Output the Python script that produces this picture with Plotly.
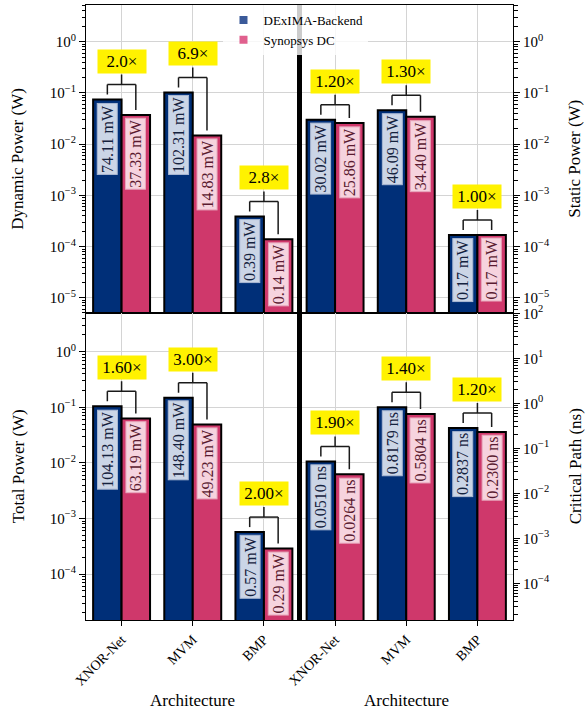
import math
import plotly.graph_objects as go

# ---------------- data ----------------
architectures = ["XNOR-Net", "MVM", "BMP"]
series_names = ["DExIMA-Backend", "Synopsys DC"]

dynamic_dexima_mw = [74.11, 102.31, 0.39]
dynamic_synopsys_mw = [37.33, 14.83, 0.14]
dynamic_ratio = ["2.0×", "6.9×", "2.8×"]

static_dexima_mw = [30.02, 46.09, 0.17]
static_synopsys_mw = [25.86, 34.40, 0.17]
static_ratio = ["1.20×", "1.30×", "1.00×"]

total_dexima_mw = [104.13, 148.40, 0.57]
total_synopsys_mw = [63.19, 49.23, 0.29]
total_ratio = ["1.60×", "3.00×", "2.00×"]

crit_dexima_ns = [0.0510, 0.8179, 0.2837]
crit_synopsys_ns = [0.0264, 0.5804, 0.2300]
crit_ratio = ["1.90×", "1.40×", "1.20×"]

power_exponents_top = [-5, -4, -3, -2, -1, 0]
power_exponents_bottom = [-4, -3, -2, -1, 0]
crit_exponents = [-4, -3, -2, -1, 0, 1, 2]

# ---------------- style ----------------
W, H = 588, 710
ML, MR, MT, MB = 86, 75, 5, 90
PANEL_H = (H - MT - MB) / 2.0
FONT = "Liberation Serif"
BLUE = "#002f78"
PINK = "#cf386b"
BLUE_LEG = "#3b5a99"
PINK_LEG = "#e0608e"
GRID = "#d4d4d4"

RNG_TOP = [-5.284, 0.716]
RNG_BL = [-4.825, 0.705]
RNG_BR = [-4.815, 2.018]


def sup(e):
    return "10<sup>" + ("−" if e < 0 else "") + str(abs(e)) + "</sup>"


fig = go.Figure()
shapes = []
annotations = []


def add_panel(xref, yref, xs, dex, syn, ratios, unit, fmt, rng, scale):
    ppd = PANEL_H / (rng[1] - rng[0])
    dex_v = [v * scale for v in dex]
    syn_v = [v * scale for v in syn]
    fig.add_trace(go.Bar(x=xs, y=dex_v, width=0.4, offset=-0.4,
                         marker=dict(color=BLUE, line=dict(color="black", width=2)),
                         xaxis=xref, yaxis=yref, showlegend=False, hoverinfo="skip"))
    fig.add_trace(go.Bar(x=xs, y=syn_v, width=0.4, offset=0.0,
                         marker=dict(color=PINK, line=dict(color="black", width=2)),
                         xaxis=xref, yaxis=yref, showlegend=False, hoverinfo="skip"))
    for c, a, b, ra, da, sb in zip(xs, dex_v, syn_v, ratios, dex, syn):
        la, lb = math.log10(a), math.log10(b)
        lm = max(la, lb)
        top = lm + 15 / ppd
        stem = lm + 25 / ppd
        line = dict(color="#1a1a1a", width=1.5)
        common = dict(type="line", xref=xref, yref=yref, line=line, layer="above")
        # shapes on log axes take data values
        shapes.append(dict(x0=c - 0.2, x1=c - 0.2, y0=10 ** (la + 5 / ppd), y1=10 ** top, **common))
        shapes.append(dict(x0=c + 0.2, x1=c + 0.2, y0=10 ** (lb + 5 / ppd), y1=10 ** top, **common))
        shapes.append(dict(x0=c - 0.2, x1=c + 0.2, y0=10 ** top, y1=10 ** top, **common))
        shapes.append(dict(x0=c, x1=c, y0=10 ** top, y1=10 ** stem, **common))
        annotations.append(dict(x=c, y=stem + 1 / ppd, xref=xref, yref=yref, text=ra,
                                showarrow=False, yanchor="bottom", xanchor="center",
                                bgcolor="#fff200", width=46, height=21,
                                font=dict(family=FONT, size=17, color="black")))
        annotations.append(dict(x=c - 0.2, y=la, xref=xref, yref=yref,
                                text=fmt.format(da) + " " + unit, textangle=-90,
                                showarrow=False, yanchor="top", xanchor="center", yshift=-3,
                                bgcolor="#cbd5e6", bordercolor="#a9b8d3", borderwidth=1,
                                borderpad=1,
                                font=dict(family=FONT, size=16, color="#14213d")))
        annotations.append(dict(x=c + 0.2, y=lb, xref=xref, yref=yref,
                                text=fmt.format(sb) + " " + unit, textangle=-90,
                                showarrow=False, yanchor="top", xanchor="center", yshift=-3,
                                bgcolor="#f6d3de", bordercolor="#e7a7bc", borderwidth=1,
                                borderpad=1,
                                font=dict(family=FONT, size=16, color="#5a1a30")))


left_x = [0, 1, 2]
right_x = [3, 4, 5]
add_panel("x", "y", left_x, dynamic_dexima_mw, dynamic_synopsys_mw, dynamic_ratio,
          "mW", "{:.2f}", RNG_TOP, 1e-3)
add_panel("x", "y2", right_x, static_dexima_mw, static_synopsys_mw, static_ratio,
          "mW", "{:.2f}", RNG_TOP, 1e-3)
add_panel("x2", "y3", left_x, total_dexima_mw, total_synopsys_mw, total_ratio,
          "mW", "{:.2f}", RNG_BL, 1e-3)
add_panel("x2", "y4", right_x, crit_dexima_ns, crit_synopsys_ns, crit_ratio,
          "ns", "{:.4f}", RNG_BR, 1.0)

# legend entries
for name, col in zip(series_names, [BLUE_LEG, PINK_LEG]):
    fig.add_trace(go.Scatter(x=[None], y=[None], mode="markers", name=name,
                             marker=dict(symbol="square", size=8, color=col),
                             xaxis="x", yaxis="y"))

# separator line
shapes.append(dict(type="line", xref="x", yref="paper", x0=2.5, x1=2.5, y0=0, y1=1,
                   line=dict(color="black", width=5), layer="above"))

tickfont = dict(family=FONT, size=15, color="black")
ycommon = dict(type="log", ticks="outside", ticklen=6, tickcolor="black",
               showline=True, linecolor="black", linewidth=1, tickfont=tickfont,
               minor=dict(ticks="outside", ticklen=3.5, tickcolor="black", dtick="D1",
                          showgrid=False),
               zeroline=False, automargin=False)
xcommon = dict(range=[-0.5, 5.5], tickvals=[0, 1, 2, 3, 4, 5], showgrid=True,
               gridcolor=GRID, gridwidth=1, showline=True, mirror=True,
               linecolor="black", linewidth=1, zeroline=False, automargin=False)

fig.update_layout(
    width=W, height=H, margin=dict(l=ML, r=MR, t=MT, b=MB, autoexpand=False),
    paper_bgcolor="white", plot_bgcolor="white", barmode="overlay",
    font=dict(family=FONT, color="black"),
    xaxis=dict(anchor="y", domain=[0, 1], showticklabels=False, ticks="", **xcommon),
    xaxis2=dict(anchor="y3", domain=[0, 1], ticktext=architectures * 2, ticks="outside",
                ticklen=5, tickcolor="black", tickangle=-45,
                tickfont=dict(family=FONT, size=14, color="black"), **xcommon),
    yaxis=dict(domain=[0.5, 1], anchor="x", range=RNG_TOP,
               tickvals=[10.0 ** e for e in power_exponents_top],
               ticktext=[sup(e) for e in power_exponents_top],
               showgrid=True, gridcolor=GRID, **ycommon),
    yaxis2=dict(overlaying="y", anchor="x", side="right", range=RNG_TOP,
                tickvals=[10.0 ** e for e in power_exponents_top],
                ticktext=[sup(e) for e in power_exponents_top],
                showgrid=False, **ycommon),
    yaxis3=dict(domain=[0, 0.5], anchor="x2", range=RNG_BL,
                tickvals=[10.0 ** e for e in power_exponents_bottom],
                ticktext=[sup(e) for e in power_exponents_bottom],
                showgrid=True, gridcolor=GRID, **ycommon),
    yaxis4=dict(overlaying="y3", anchor="x2", side="right", range=RNG_BR,
                tickvals=[10.0 ** e for e in crit_exponents],
                ticktext=[sup(e) for e in crit_exponents],
                showgrid=False, **ycommon),
    legend=dict(x=0.322, y=1.0, xanchor="left", yanchor="top",
                bgcolor="rgba(255,255,255,0.8)", borderwidth=0,
                font=dict(family=FONT, size=13, color="black"),
                itemwidth=30, tracegroupgap=0),
    shapes=shapes,
)

title_font = dict(family=FONT, size=17, color="black")
for text, y, side in [("Dynamic Power (W)", 0.75, "l"), ("Static Power (W)", 0.75, "r"),
                      ("Total Power (W)", 0.25, "l"), ("Critical Path (ns)", 0.25, "r")]:
    annotations.append(dict(x=0 if side == "l" else 1, y=y, xref="paper", yref="paper",
                            xshift=-68 if side == "l" else 62, text=text, textangle=-90,
                            showarrow=False, xanchor="center", yanchor="middle",
                            font=title_font))
for xc in [1.0, 4.0]:
    annotations.append(dict(x=xc, y=0, xref="x2", yref="paper", yshift=-80,
                            text="Architecture", showarrow=False, xanchor="center",
                            yanchor="middle", font=title_font))

fig.update_layout(annotations=annotations)
fig.write_html("out.html", config={"displayModeBar": False},
               post_script="document.body.style.margin='0';")
